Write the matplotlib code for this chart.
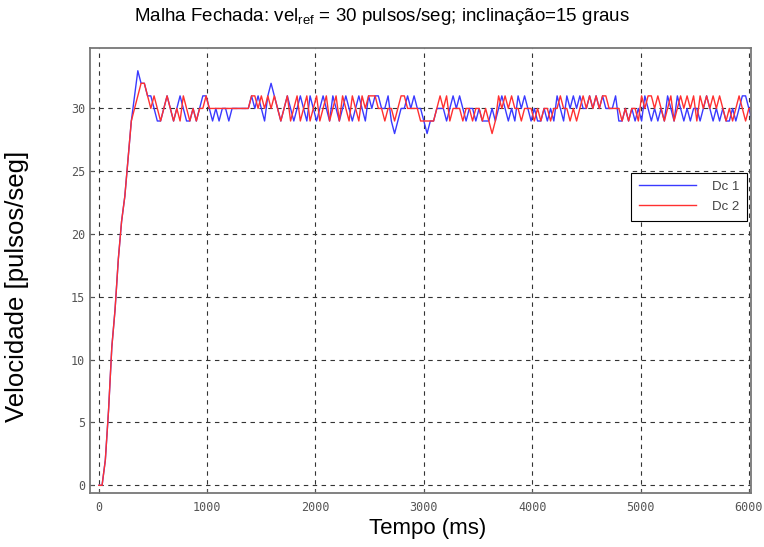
import numpy as np
import matplotlib
matplotlib.use('Agg')
import matplotlib.pyplot as plt

plt.rcParams['font.family'] = ['Liberation Sans', 'DejaVu Sans']

# amostragem (ms)
dt = 30

vel_dc1 = [
    0, 0, 2, 6, 11, 14, 18, 21, 23, 26,
    29, 31, 33, 32, 32, 31, 31, 30, 29, 29,
    30, 31, 30, 29, 30, 31, 30, 29, 29, 30,
    29, 30, 31, 31, 30, 29, 30, 29, 30, 30,
    29, 30, 30, 30, 30, 30, 30, 31, 30, 31,
    30, 29, 31, 32, 31, 30, 29, 30, 31, 30,
    29, 30, 31, 30, 29, 31, 30, 29, 30, 31,
    30, 29, 31, 30, 29, 30, 31, 30, 29, 30,
    31, 30, 29, 31, 30, 31, 31, 30, 30, 31,
    29, 28, 29, 30, 30, 31, 30, 31, 30, 30,
    29, 28, 29, 29, 30, 30, 30, 29, 30, 31,
    30, 31, 30, 29, 30, 30, 29, 30, 29, 29,
    29, 30, 29, 30, 31, 30, 29, 30, 29, 31,
    30, 31, 30, 29, 30, 29, 29, 30, 29, 30,
    29, 31, 30, 29, 31, 30, 31, 30, 31, 30,
    30, 31, 30, 31, 30, 31, 30, 30, 30, 31,
    29, 29, 30, 29, 30, 29, 30, 29, 31, 30,
    29, 30, 29, 30, 29, 31, 30, 29, 31, 30,
    29, 30, 29, 30, 30, 29, 30, 31, 30, 29,
    30, 29, 30, 29, 29, 30, 29, 30, 31, 31,
    30, 29,
]

vel_dc2 = [
    0, 0, 2, 6, 11, 14, 18, 21, 23, 26,
    29, 30, 31, 32, 32, 31, 30, 31, 30, 29,
    30, 31, 30, 29, 30, 29, 31, 30, 29, 30,
    29, 30, 30, 31, 30, 30, 30, 30, 30, 30,
    30, 30, 30, 30, 30, 30, 30, 31, 31, 30,
    31, 30, 31, 30, 31, 30, 29, 30, 31, 29,
    30, 31, 29, 30, 31, 29, 30, 31, 29, 30,
    31, 29, 30, 31, 29, 31, 30, 29, 31, 30,
    29, 31, 30, 31, 31, 31, 30, 30, 29, 30,
    30, 29, 30, 31, 31, 30, 30, 30, 30, 29,
    29, 29, 29, 29, 30, 31, 30, 31, 29, 30,
    30, 30, 29, 30, 30, 29, 30, 30, 29, 30,
    29, 28, 29, 31, 30, 31, 30, 31, 30, 30,
    29, 30, 30, 30, 29, 30, 29, 30, 30, 29,
    30, 30, 31, 30, 30, 29, 30, 29, 30, 31,
    30, 31, 30, 31, 30, 31, 31, 30, 30, 30,
    30, 29, 30, 29, 30, 30, 29, 31, 30, 31,
    31, 30, 31, 30, 29, 30, 31, 29, 30, 31,
    30, 31, 30, 31, 29, 31, 30, 31, 30, 31,
    30, 31, 30, 29, 30, 29, 30, 31, 30, 29,
    30, 30,
]

x_ticks = [0, 1000, 2000, 3000, 4000, 5000, 6000]
y_ticks = [0, 5, 10, 15, 20, 25, 30]

t = np.arange(len(vel_dc1)) * dt

fig = plt.figure(figsize=(7.64, 5.47), dpi=100)
ax = fig.add_axes([0.118, 0.099, 0.865, 0.813])

ax.plot(t, vel_dc1, color='#3a3aff', lw=1.0, label='Dc 1')
ax.plot(t, vel_dc2, color='#ff3030', lw=1.0, label='Dc 2')

ax.set_xlim(-80, 6020)
ax.set_ylim(-0.6, 34.8)
ax.set_xticks(x_ticks)
ax.set_yticks(y_ticks)
ax.grid(True, linestyle=(0, (4, 4)), color='#333333', lw=0.8)
ax.tick_params(direction='in', length=3, labelsize=8.5, labelcolor='#555555', color='#555555')
ax.tick_params(axis='x', pad=6)
for lbl in ax.get_xticklabels() + ax.get_yticklabels():
    lbl.set_family('DejaVu Sans Mono')
for sp in ax.spines.values():
    sp.set_color('#777777')
    sp.set_linewidth(1.3)

# titulo centrado na figura, nao nos eixos
fig.text(0.5, 0.969, 'Malha Fechada: vel$_{\\mathregular{ref}}$ = 30 pulsos/seg; inclinação=15 graus',
         fontsize=13.5, ha='center', va='center')
ax.set_xlabel('Tempo (ms)', fontsize=16)
ax.xaxis.set_label_coords(0.511, -0.056)
ax.set_ylabel('Velocidade [pulsos/seg]', fontsize=18.5)
ax.yaxis.set_label_coords(-0.092, 0.465)

leg = ax.legend(loc='upper right', bbox_to_anchor=(0.994, 0.72), fancybox=False,
                framealpha=1, edgecolor='black', fontsize=9.5, handlelength=4.3,
                handletextpad=1.2, labelspacing=0.6, borderpad=0.6, borderaxespad=0)
leg.get_frame().set_linewidth(0.8)
for txt in leg.get_texts():
    txt.set_color('#444444')

plt.savefig('out.png', dpi=100)
